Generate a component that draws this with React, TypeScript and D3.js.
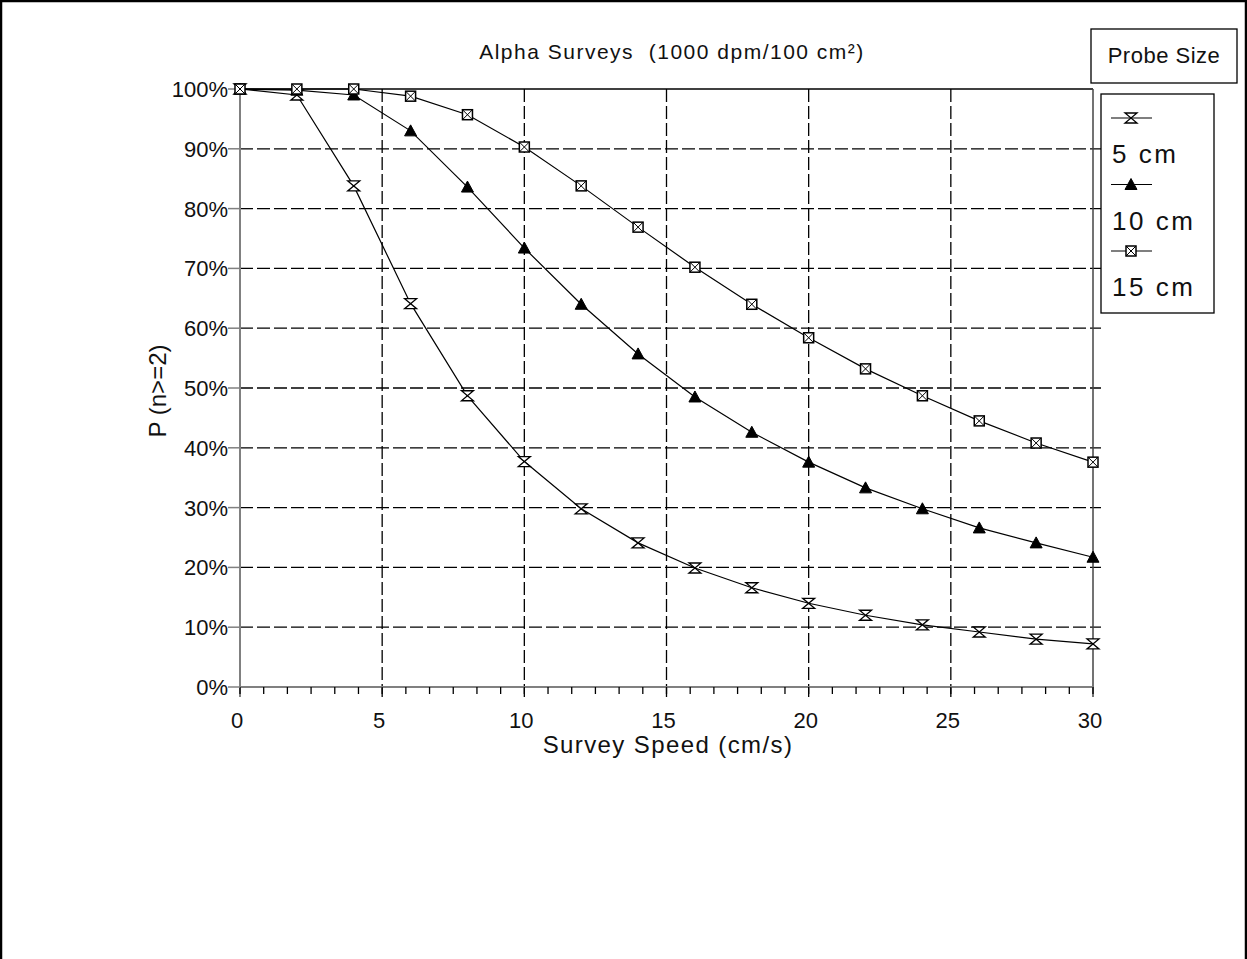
import React from "react";
import * as d3 from "d3";

const speeds = [0, 2, 4, 6, 8, 10, 12, 14, 16, 18, 20, 22, 24, 26, 28, 30];
const probe5 = [100, 99.0, 83.8, 64.1, 48.7, 37.7, 29.8, 24.1, 19.9, 16.6, 14.0, 12.0, 10.4, 9.2, 8.0, 7.2];
const probe10 = [100, 99.8, 99.0, 93.0, 83.6, 73.4, 64.0, 55.7, 48.5, 42.6, 37.6, 33.3, 29.8, 26.6, 24.1, 21.7];
const probe15 = [100, 100, 100, 98.8, 95.7, 90.3, 83.8, 76.9, 70.2, 64.0, 58.4, 53.2, 48.7, 44.5, 40.8, 37.6];
const seriesNames = ["5 cm", "10 cm", "15 cm"];
const xTicks = [0, 5, 10, 15, 20, 25, 30];
const yTicks = [0, 10, 20, 30, 40, 50, 60, 70, 80, 90, 100];

const W = 1247, H = 959;
const FONT = "'Liberation Sans', Arial, sans-serif";

function Marker({ kind, cx, cy }: { kind: number; cx: number; cy: number }) {
  if (kind === 0) {
    const s = 5;
    return (
      <path
        d={`M${cx - s - 1},${cy - s}H${cx + s + 1}L${cx - s - 1},${cy + s}H${cx + s + 1}Z`}
        fill="white"
        stroke="black"
        strokeWidth={1.3}
      />
    );
  }
  if (kind === 1) {
    return (
      <path d={`M${cx},${cy - 6}L${cx + 6},${cy + 5}L${cx - 6},${cy + 5}Z`} fill="black" stroke="black" strokeWidth={1} />
    );
  }
  const s = 5;
  return (
    <g>
      <rect x={cx - s} y={cy - s} width={2 * s} height={2 * s} fill="white" stroke="black" strokeWidth={1.5} />
      <path d={`M${cx - s},${cy - s}L${cx + s},${cy + s}M${cx + s},${cy - s}L${cx - s},${cy + s}`} stroke="black" strokeWidth={1} />
    </g>
  );
}

export default function App() {
  const x = d3.scaleLinear().domain([0, 30]).range([240, 1093]);
  const y = d3.scaleLinear().domain([0, 100]).range([687, 89]);
  const series = [probe5, probe10, probe15];
  const line = d3
    .line<number>()
    .x((_, i) => x(speeds[i]))
    .y((d) => y(d))
    .curve(d3.curveLinear);
  const minor = d3.range(0, 37).map((k) => (k * 30) / 36);

  return (
    <svg width={W} height={H} style={{ position: "absolute", left: 0, top: 0, background: "white" }}>
      <rect x={1} y={1} width={W - 2} height={H + 4} fill="white" stroke="black" strokeWidth={2.5} />

      {/* gridlines */}
      {yTicks.slice(1, -1).map((t) => (
        <line key={"gy" + t} x1={x(0)} x2={x(30) + 8} y1={y(t)} y2={y(t)} stroke="black" strokeWidth={1.3} strokeDasharray="13,4" />
      ))}
      {xTicks.slice(1, -1).map((t) => (
        <line key={"gx" + t} x1={x(t)} x2={x(t)} y1={y(100)} y2={y(0) + 10} stroke="black" strokeWidth={1.3} strokeDasharray="13,4" />
      ))}
      {/* frame top & right */}
      <line x1={x(0)} x2={x(30)} y1={y(100)} y2={y(100)} stroke="black" strokeWidth={1.5} />
      <line x1={x(30)} x2={x(30)} y1={y(100)} y2={y(0) + 10} stroke="#444" strokeWidth={1.5} />

      {/* axes */}
      <line x1={x(0)} x2={x(0)} y1={y(100)} y2={y(0) + 10} stroke="#808080" strokeWidth={2} />
      <line x1={x(0)} x2={x(30)} y1={y(0)} y2={y(0)} stroke="#808080" strokeWidth={2} />
      {minor.map((m, k) => (
        <line key={"mt" + k} x1={x(m)} x2={x(m)} y1={y(0)} y2={y(0) + 7} stroke="black" strokeWidth={1.3} />
      ))}
      {yTicks.map((t) => (
        <g key={"yt" + t}>
          <line x1={x(0) - 12} x2={x(0)} y1={y(t)} y2={y(t)} stroke="#808080" strokeWidth={1.5} />
          <text x={228} y={y(t) + 8} textAnchor="end" fontFamily={FONT} fontSize={22} fill="#111">
            {t + "%"}
          </text>
        </g>
      ))}
      {xTicks.map((t) => (
        <text key={"xt" + t} x={x(t) - 3} y={728} textAnchor="middle" fontFamily={FONT} fontSize={22} fill="#111">
          {t}
        </text>
      ))}

      {/* series */}
      {series.map((s, si) => (
        <path key={"l" + si} d={line(s) || ""} fill="none" stroke="black" strokeWidth={1.2} />
      ))}
      {series.map((s, si) =>
        s.map((v, i) => <Marker key={"m" + si + "_" + i} kind={si} cx={x(speeds[i])} cy={y(v)} />)
      )}

      {/* titles */}
      <text x={672} y={59} textAnchor="middle" fontFamily={FONT} fontSize={21} letterSpacing={1.5} fill="#111" style={{ whiteSpace: "pre" }}>
        {"Alpha Surveys  (1000 dpm/100 cm²)"}
      </text>
      <text x={668} y={753} textAnchor="middle" fontFamily={FONT} fontSize={24} letterSpacing={1.4} fill="#111">
        Survey Speed (cm/s)
      </text>
      <text transform="translate(166,391) rotate(-90)" textAnchor="middle" fontFamily={FONT} fontSize={24} fill="#111">
        P (n&gt;=2)
      </text>

      {/* legend */}
      <rect x={1091} y={29} width={146} height={54} fill="white" stroke="black" strokeWidth={1.3} />
      <text x={1164} y={63} textAnchor="middle" fontFamily={FONT} fontSize={22} letterSpacing={0.5} fill="#111">
        Probe Size
      </text>
      <rect x={1101} y={94} width={113} height={219} fill="white" stroke="black" strokeWidth={1.3} />
      {seriesNames.map((n, i) => {
        const ly = 118 + i * 66.5;
        return (
          <g key={"lg" + i}>
            <line x1={1111} x2={1152} y1={ly} y2={ly} stroke="black" strokeWidth={1.2} />
            <Marker kind={i} cx={1131} cy={ly} />
            <text x={1112} y={ly + 45} fontFamily={FONT} fontSize={26} letterSpacing={2.5} fill="#111" style={{ whiteSpace: "pre" }}>
              {n}
            </text>
          </g>
        );
      })}
    </svg>
  );
}
